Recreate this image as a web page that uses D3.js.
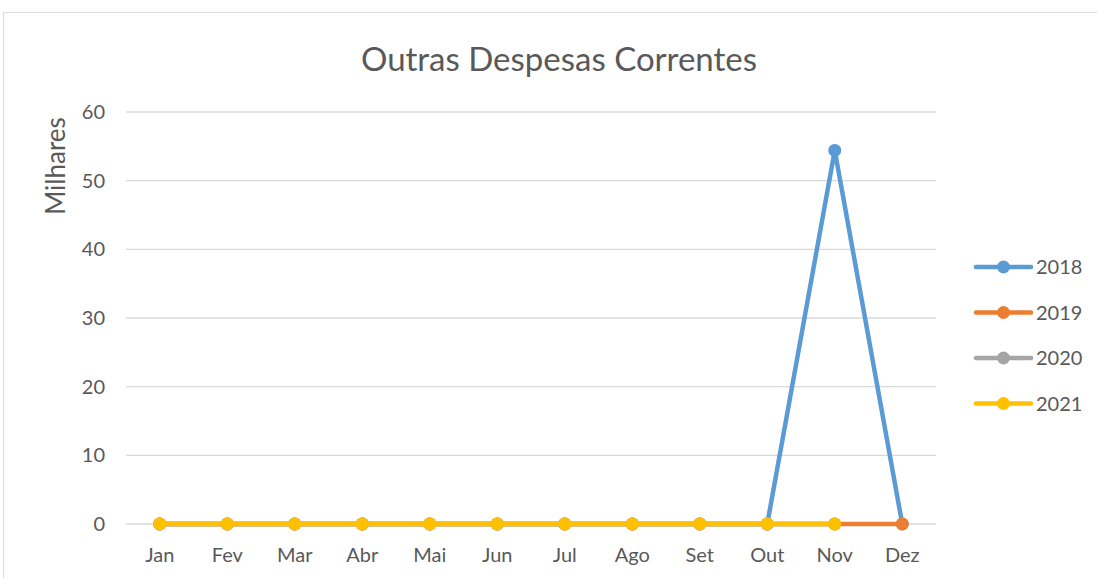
<!DOCTYPE html>
<html>
<head>
<meta charset="utf-8">
<script src="https://cdn.jsdelivr.net/npm/d3@7"></script>
<style>
  body { margin: 0; background: #fff; }
  svg { display: block; font-family: Lato, "Open Sans", sans-serif; }
</style>
</head>
<body>
<svg id="chart" width="1097" height="578"></svg>
<script>
const meses = ['Jan', 'Fev', 'Mar', 'Abr', 'Mai', 'Jun', 'Jul', 'Ago', 'Set', 'Out', 'Nov', 'Dez'];
const anos = ['2018', '2019', '2020', '2021'];
// valores em milhares (null = sem dado)
const v2018 = [0, 0, 0, 0, 0, 0, 0, 0, 0, 0, 54.4, 0];
const v2019 = [0, 0, 0, 0, 0, 0, 0, 0, 0, 0, 0, 0];
const v2020 = [0, 0, 0, 0, 0, 0, 0, 0, 0, 0, 0, null];
const v2021 = [0, 0, 0, 0, 0, 0, 0, 0, 0, 0, 0, null];
const yTicks = [0, 10, 20, 30, 40, 50, 60];
const cores = ['#5B9BD5', '#ED7D31', '#A5A5A5', '#FFC000'];

const series = [v2018, v2019, v2020, v2021];
const svg = d3.select('#chart');
const textColor = '#595959';

// moldura do gráfico
svg.append('rect')
  .attr('x', 3.5).attr('y', 12.5)
  .attr('width', 1110).attr('height', 600)
  .attr('fill', 'none')
  .attr('stroke', '#d9d9d9');

const margin = { left: 126, right: 161, top: 112, bottom: 54 };
const width = 1097 - margin.left - margin.right;
const height = 578 - margin.top - margin.bottom;

const g = svg.append('g').attr('transform', `translate(${margin.left},${margin.top})`);

const x = d3.scaleBand().domain(meses).range([0, width]);
const y = d3.scaleLinear().domain([0, 60]).range([height, 0]);

// grade
g.selectAll('.grid')
  .data(yTicks)
  .enter()
  .append('line')
  .attr('x1', 0).attr('x2', width)
  .attr('y1', d => y(d)).attr('y2', d => y(d))
  .attr('stroke', '#d9d9d9')
  .attr('stroke-width', 1.3);

// eixo Y
const yAxis = g.append('g').call(d3.axisLeft(y).tickValues(yTicks).tickSize(0).tickPadding(21));
yAxis.select('.domain').remove();
yAxis.selectAll('text').style('font-size', '20px').attr('fill', textColor).style('font-family', 'Lato, sans-serif');

// eixo X
const xAxis = g.append('g')
  .attr('transform', `translate(0,${height})`)
  .call(d3.axisBottom(x).tickSize(0).tickPadding(24));
xAxis.select('.domain').remove();
xAxis.selectAll('text').style('font-size', '20px').attr('fill', textColor).style('font-family', 'Lato, sans-serif');

// linhas
const line = d3.line()
  .defined(d => d != null)
  .x((d, i) => x(meses[i]) + x.bandwidth() / 2)
  .y(d => y(d));

series.forEach((vals, k) => {
  g.append('path')
    .datum(vals)
    .attr('d', line)
    .attr('fill', 'none')
    .attr('stroke', cores[k])
    .attr('stroke-width', 4.5)
    .attr('stroke-linejoin', 'round')
    .attr('stroke-linecap', 'round');

  g.selectAll(`.pt${k}`)
    .data(vals.map((v, i) => ({ v, m: meses[i] })).filter(d => d.v != null))
    .enter()
    .append('circle')
    .attr('cx', d => x(d.m) + x.bandwidth() / 2)
    .attr('cy', d => y(d.v))
    .attr('r', 6.5)
    .attr('fill', cores[k]);
});

// título
svg.append('text')
  .attr('x', 559).attr('y', 71)
  .attr('text-anchor', 'middle')
  .style('font-size', '33px')
  .attr('fill', textColor)
  .text('Outras Despesas Correntes');

// unidade
svg.append('text')
  .attr('transform', 'translate(65,166) rotate(-90)')
  .attr('text-anchor', 'middle')
  .style('font-size', '26px')
  .attr('fill', textColor)
  .text('Milhares');

// legenda
const legenda = svg.append('g').attr('transform', 'translate(976,267)');
anos.forEach((ano, k) => {
  const row = legenda.append('g').attr('transform', `translate(0,${k * 45.5})`);
  row.append('line')
    .attr('x1', 0).attr('x2', 55)
    .attr('stroke', cores[k]).attr('stroke-width', 4.5)
    .attr('stroke-linecap', 'round');
  row.append('circle').attr('cx', 27.5).attr('r', 6.5).attr('fill', cores[k]);
  row.append('text')
    .attr('x', 60).attr('y', 7)
    .style('font-size', '20px')
    .attr('fill', textColor)
    .text(ano);
});
</script>
</body>
</html>
